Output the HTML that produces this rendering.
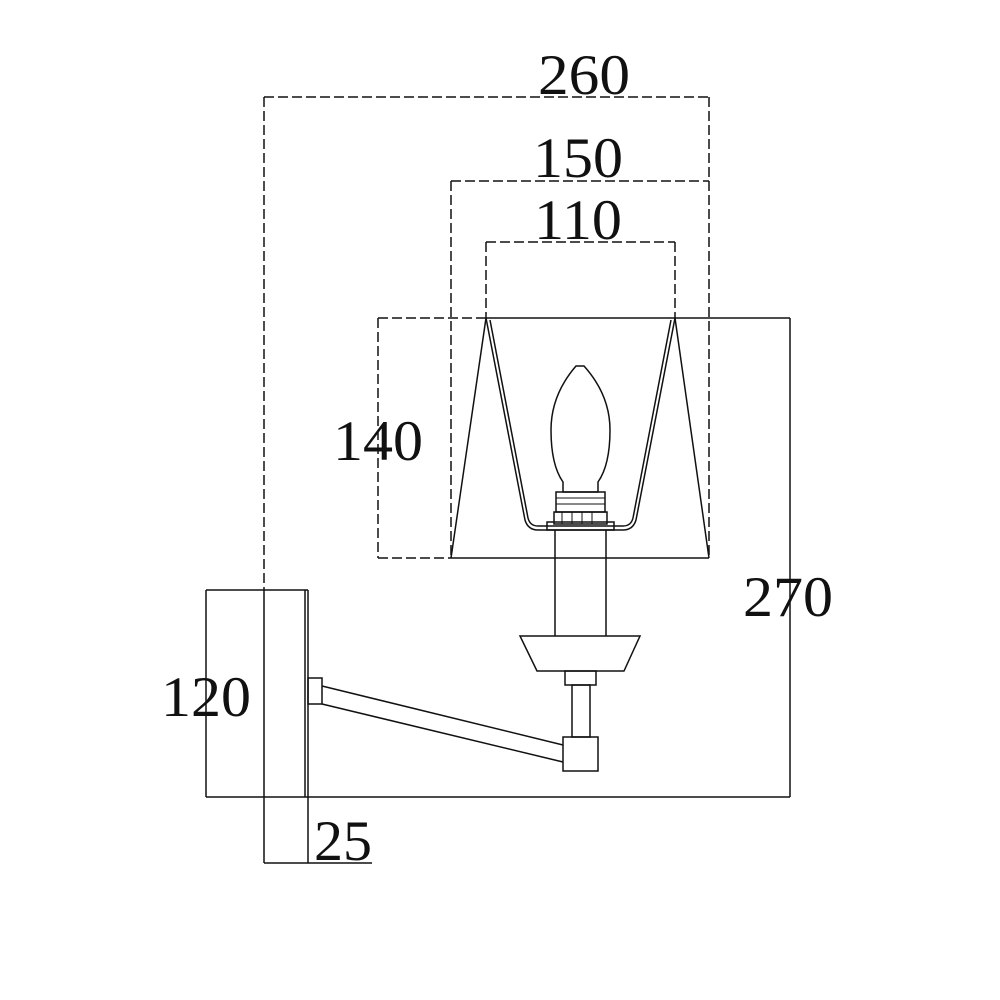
<!DOCTYPE html>
<html><head><meta charset="utf-8"><style>html,body{margin:0;padding:0;background:#fff}svg{display:block}</style></head>
<body>
<svg width="1000" height="1000" viewBox="0 0 1000 1000" xmlns="http://www.w3.org/2000/svg">
<g fill="none" stroke="#111" stroke-width="1.5">
<g stroke-dasharray="10,4">
<line x1="264" y1="97" x2="709" y2="97"/>
<line x1="264" y1="97" x2="264" y2="590"/>
<line x1="709" y1="97" x2="709" y2="558"/>
<line x1="451" y1="181" x2="709" y2="181"/>
<line x1="451" y1="181" x2="451" y2="558"/>
<line x1="486" y1="242" x2="675" y2="242"/>
<line x1="486" y1="242" x2="486" y2="318"/>
<line x1="675" y1="242" x2="675" y2="318"/>
<line x1="378" y1="318" x2="486" y2="318"/>
<line x1="378" y1="318" x2="378" y2="558"/>
<line x1="378" y1="558" x2="451" y2="558"/>
</g>
<line x1="486" y1="318" x2="790" y2="318"/>
<line x1="790" y1="318" x2="790" y2="797"/>
<line x1="206" y1="797" x2="790" y2="797"/>
<line x1="206" y1="590" x2="206" y2="797"/>
<line x1="206" y1="590" x2="308" y2="590"/>
<line x1="264" y1="590" x2="264" y2="863"/>
<line x1="308" y1="590" x2="308" y2="863"/>
<line x1="305" y1="590" x2="305" y2="797"/>
<line x1="264" y1="863" x2="372" y2="863"/>
<line x1="451" y1="558" x2="709" y2="558"/>
<line x1="486" y1="318" x2="451" y2="558"/>
<line x1="675" y1="318" x2="709" y2="558"/>
<path d="M486 318 L525 520 Q528 530 538 530 L623 530 Q633 530 636 520 L675 318"/>
<path d="M490 320 L528 518 Q530 526 538 526 L623 526 Q631 526 633 518 L671 320"/>
<path d="M576 366 L584 366 Q610 395 610 430 Q610 465 598 482 L598 492 L563 492 L563 482 Q551 465 551 430 Q551 395 576 366 Z"/>
<rect x="556" y="492" width="49" height="20"/>
<rect x="554" y="512" width="53" height="12"/>
<rect x="547" y="522" width="67" height="8"/>
<g stroke-width="1"><line x1="556" y1="498" x2="605" y2="498"/><line x1="556" y1="504" x2="605" y2="504"/><line x1="562" y1="512" x2="562" y2="524"/><line x1="572" y1="512" x2="572" y2="524"/><line x1="582" y1="512" x2="582" y2="524"/><line x1="592" y1="512" x2="592" y2="524"/></g>
<line x1="555" y1="530" x2="555" y2="636"/>
<line x1="606" y1="530" x2="606" y2="636"/>
<path d="M520 636 L640 636 L624 671 L537 671 Z"/>
<rect x="565" y="671" width="31" height="14"/>
<rect x="572" y="685" width="18" height="52"/>
<rect x="563" y="737" width="35" height="34"/>
<rect x="308" y="678" width="14" height="26"/>
<line x1="322" y1="686" x2="563" y2="745"/>
<line x1="322" y1="704" x2="563" y2="762"/>
</g>
<g font-family="Liberation Serif, serif" font-size="57" fill="#111" text-anchor="middle">
<text x="584" y="94" textLength="92" lengthAdjust="spacingAndGlyphs">260</text>
<text x="578" y="177" textLength="90" lengthAdjust="spacingAndGlyphs">150</text>
<text x="578" y="239" textLength="88" lengthAdjust="spacingAndGlyphs">110</text>
<text x="378" y="460" textLength="90" lengthAdjust="spacingAndGlyphs">140</text>
<text x="788" y="616" textLength="90" lengthAdjust="spacingAndGlyphs">270</text>
<text x="206" y="716" textLength="90" lengthAdjust="spacingAndGlyphs">120</text>
<text x="343" y="860" textLength="58" lengthAdjust="spacingAndGlyphs">25</text>
</g>
</svg>
</body></html>
